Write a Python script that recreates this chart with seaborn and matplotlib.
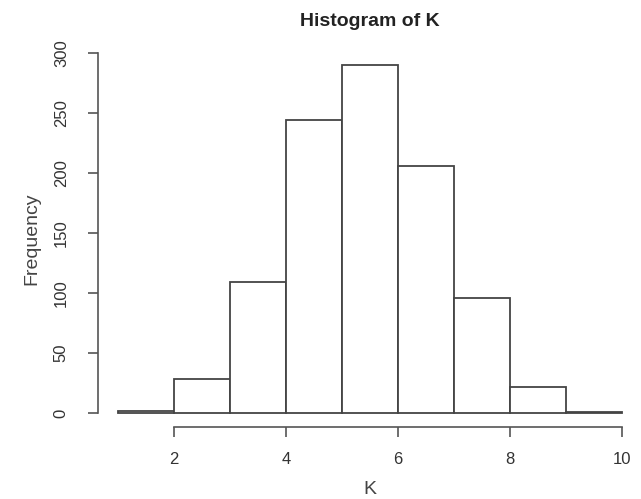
import matplotlib
matplotlib.use("Agg")
import matplotlib.pyplot as plt
import seaborn as sns
import numpy as np

# Data
bin_edges = [1, 2, 3, 4, 5, 6, 7, 8, 9, 10]
counts = [2, 28, 109, 244, 290, 206, 96, 22, 1]
x_ticks = [2, 4, 6, 8, 10]
y_ticks = [0, 50, 100, 150, 200, 250, 300]

sns.set_style("white")
plt.rcParams['font.family'] = ['Liberation Sans', 'DejaVu Sans']

W, H = 641, 499
fig = plt.figure(figsize=(W / 100, H / 100), dpi=100)
ax = fig.add_axes([98 / W, (H - 427) / H, (642 - 98) / W, (427 - 51) / H])

centers = [(bin_edges[i] + bin_edges[i + 1]) / 2 for i in range(len(counts))]
sns.histplot(x=centers, weights=counts, bins=bin_edges, ax=ax,
             color="white", edgecolor="#444444", linewidth=1.3, alpha=1)

ax.set_xlim(0.64, 10.36)
ax.set_ylim(-11.6, 301.6)

for s in ["top", "right"]:
    ax.spines[s].set_visible(False)
ax.spines["left"].set_bounds(0, 300)
ax.spines["bottom"].set_bounds(2, 10)
for s in ["left", "bottom"]:
    ax.spines[s].set_color("#555555")
    ax.spines[s].set_linewidth(1.2)

ax.set_xticks(x_ticks)
ax.set_yticks(y_ticks)
ax.set_yticklabels([str(v) for v in y_ticks], rotation=90, va="center")
ax.tick_params(axis="both", direction="out", length=7, width=1.2, color="#555555",
               labelsize=12, labelcolor="#333333", left=True, bottom=True)
ax.tick_params(axis="y", pad=14)
ax.tick_params(axis="x", pad=11)

ax.set_xlabel("K", fontsize=14, color="#444444", labelpad=10)
ax.set_ylabel("Frequency", fontsize=14, color="#444444", labelpad=10)
fig.suptitle("Histogram of K", x=370 / W, y=1 - 13 / H, fontsize=14,
             fontweight="bold", color="#222222", va="top")

fig.savefig("out.png", dpi=100)
